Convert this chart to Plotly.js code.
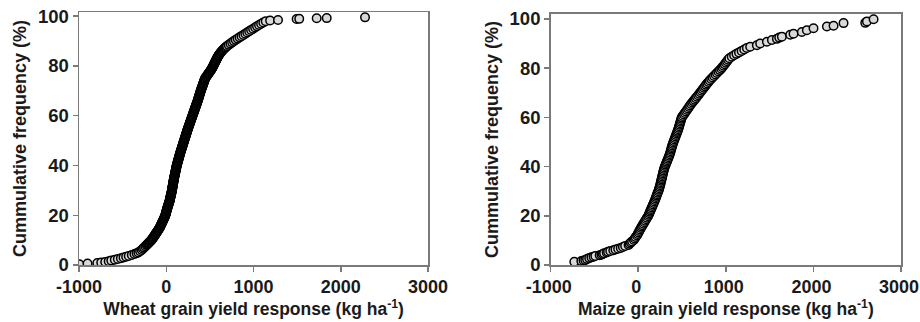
<!DOCTYPE html>
<html>
<head>
<meta charset="utf-8">
<script src="https://cdn.plot.ly/plotly-3.0.1.min.js"></script>
<style>html,body{margin:0;padding:0;background:#fff;}#chart{width:920px;height:322px;}</style>
</head>
<body>
<div id="chart"></div>
<script>
// Wheat: yield response (kg/ha) and cumulative frequency (%)
const wheatX = [-996,-902,-790,-745,-700,-660,-630,-590,-555,-520,-490,-460,-430,-395,-365,-340,
-320,-300,-282,-268,-255,-240,
-226,-219,-212,-205,-198,-191,-184,-177,-170,-165,-160,-155,-150,-145,-140,-135,-130,-126,-121,-117,
-112,-107,-102,-98,-93,-89,-84,-80,-75,-71,-68,-65,-62,-58,-55,-51,-48,-45,-42,-38,
-35,-32,-29,-25,-22,-19,-16,-13,-10,-8,-6,-4,-2,0,1,3,5,7,9,11,
14,16,18,20,22,25,27,29,31,34,36,38,40,42,43,45,46,48,49,51,
52,54,56,58,59,61,62,64,65,66,67,69,70,71,72,74,75,76,77,79,
80,81,82,84,85,86,87,89,90,92,93,95,96,98,99,101,102,104,105,107,
108,110,111,113,114,116,117,119,120,122,124,126,128,130,132,134,136,138,140,142,
144,146,148,150,152,154,156,158,160,162,164,167,169,171,173,176,178,180,182,185,
187,189,191,194,196,198,200,203,205,207,209,212,214,216,218,221,223,225,227,230,
232,234,236,239,241,243,245,248,250,253,255,258,260,263,265,268,270,273,275,278,
280,283,285,288,290,293,295,298,300,303,305,308,310,313,315,318,320,323,325,328,
330,333,335,338,340,343,345,348,350,353,355,358,360,362,364,367,369,371,373,376,
378,380,382,384,386,389,391,393,395,398,400,403,405,408,410,413,415,418,420,423,
425,428,430,433,435,438,440,443,445,450,455,460,465,470,475,480,485,490,495,500,
505,510,515,519,523,527,531,535,538,542,545,549,552,556,559,563,566,570,573,577,
580,584,588,592,596,600,605,610,615,620,626,632,638,644,651,658,665,672,680,688,
697,715,735,755,775,796,818,840,862,884,906,928,950,972,
995,1018,1040,1063,1087,1112,1140,
1190,1281,1494,1524,1724,1839,2278];
const wheatY = [0.3,0.6,0.8,1.0,1.2,1.5,1.8,2.1,2.4,2.7,3.0,3.3,3.6,4.0,4.4,4.7,
5,5.5,6,6.5,7,7.5,
8,8.25,8.5,8.75,9,9.25,9.5,9.75,10,10.25,10.5,10.75,11,11.25,11.5,11.75,12,12.25,12.5,12.75,
13,13.25,13.5,13.75,14,14.25,14.5,14.75,15,15.25,15.5,15.75,16,16.25,16.5,16.75,17,17.25,17.5,17.75,
18,18.25,18.5,18.75,19,19.25,19.5,19.75,20,20.25,20.5,20.75,21,21.25,21.5,21.75,22,22.25,22.5,22.75,
23,23.25,23.5,23.75,24,24.25,24.5,24.75,25,25.25,25.5,25.75,26,26.25,26.5,26.75,27,27.25,27.5,27.75,
28,28.25,28.5,28.75,29,29.25,29.5,29.75,30,30.25,30.5,30.75,31,31.25,31.5,31.75,32,32.25,32.5,32.75,
33,33.25,33.5,33.75,34,34.25,34.5,34.75,35,35.25,35.5,35.75,36,36.25,36.5,36.75,37,37.25,37.5,37.75,
38,38.25,38.5,38.75,39,39.25,39.5,39.75,40,40.25,40.5,40.75,41,41.25,41.5,41.75,42,42.25,42.5,42.75,
43,43.25,43.5,43.75,44,44.25,44.5,44.75,45,45.25,45.5,45.75,46,46.25,46.5,46.75,47,47.25,47.5,47.75,
48,48.25,48.5,48.75,49,49.25,49.5,49.75,50,50.25,50.5,50.75,51,51.25,51.5,51.75,52,52.25,52.5,52.75,
53,53.25,53.5,53.75,54,54.25,54.5,54.75,55,55.25,55.5,55.75,56,56.25,56.5,56.75,57,57.25,57.5,57.75,
58,58.25,58.5,58.75,59,59.25,59.5,59.75,60,60.25,60.5,60.75,61,61.25,61.5,61.75,62,62.25,62.5,62.75,
63,63.25,63.5,63.75,64,64.25,64.5,64.75,65,65.25,65.5,65.75,66,66.25,66.5,66.75,67,67.25,67.5,67.75,
68,68.25,68.5,68.75,69,69.25,69.5,69.75,70,70.25,70.5,70.75,71,71.25,71.5,71.75,72,72.25,72.5,72.75,
73,73.25,73.5,73.75,74,74.25,74.5,74.75,75,75.25,75.5,75.75,76,76.25,76.5,76.75,77,77.25,77.5,77.75,
78,78.25,78.5,78.75,79,79.25,79.5,79.75,80,80.25,80.5,80.75,81,81.25,81.5,81.75,82,82.25,82.5,82.75,
83,83.25,83.5,83.75,84,84.25,84.5,84.75,85,85.25,85.5,85.75,86,86.25,86.5,86.75,87,87.25,87.5,87.75,
88,88.5,89,89.5,90,90.5,91,91.5,92,92.5,93,93.5,94,94.5,
95,95.5,96,96.5,97,97.5,98,
98.3,98.5,98.9,98.95,99.2,99.25,99.55];

// Maize: yield response (kg/ha) and cumulative frequency (%)
const maizeX = [-730,-650,-625,-605,-585,-560,-535,-510,-490,-440,-420,-405,-390,-360,-345,-320,
-285,-260,-230,-200,-175,-150,-110,-100,-85,-70,-50,-40,-30,-15,-6,3,12,21,30,40,
50,60,70,80,90,100,112,120,127,134,141,148,155,162,169,177,184,191,198,204,
210,216,222,230,235,240,245,250,254,258,262,266,270,274,278,282,286,290,295,300,
307,313,320,327,333,340,347,353,360,365,370,374,379,384,389,394,400,406,413,419,
426,432,439,445,451,457,462,467,472,477,482,487,492,497,509,521,532,544,556,568,
580,591,604,617,630,644,657,670,684,697,710,723,736,749,762,775,788,802,815,832,
848,865,882,898,915,932,948,961,974,987,1000,1013,1026,1040,1067,1094,1121,1150,1180,1210,
1240,1278,1354,1392,1469,1526,1583,1610,1640,1735,1773,1868,1925,2001,2154,2230,2344,2592,2611,2687];
const maizeY = [1.3,1.6,1.8,2.0,2.4,2.8,3.1,3.4,3.7,4.0,4.2,4.5,4.8,5.1,5.4,5.7,
6.0,6.3,6.6,6.9,7.3,7.7,8.1,8.6,9.1,9.6,10.2,10.8,11.4,12.0,12.6,13.2,13.8,14.4,15.0,15.6,
16.2,16.8,17.4,18.0,18.6,19.2,19.8,20.4,21.0,21.6,22.2,22.8,23.4,24.0,24.6,25.2,25.8,26.4,27.0,27.6,
28.2,28.8,29.4,30.0,30.6,31.2,31.8,32.4,33.0,33.6,34.2,34.8,35.4,36.0,36.6,37.2,37.8,38.4,39.0,39.6,
40.2,40.8,41.4,42.0,42.6,43.2,43.8,44.4,45.0,45.6,46.2,46.8,47.4,48.0,48.6,49.2,49.8,50.4,51.0,51.6,
52.2,52.8,53.4,54.0,54.6,55.2,55.8,56.4,57.0,57.6,58.2,58.8,59.4,60.0,60.6,61.2,61.8,62.4,63.0,63.6,
64.2,64.8,65.4,66.0,66.6,67.2,67.8,68.4,69.0,69.6,70.2,70.8,71.4,72.0,72.6,73.2,73.8,74.4,75.0,75.6,
76.2,76.8,77.4,78.0,78.6,79.2,79.8,80.4,81.0,81.6,82.2,82.8,83.4,84.0,84.6,85.2,85.8,86.4,87.0,87.6,
88.2,88.7,89.3,90.0,90.7,91.4,91.9,92.4,92.8,93.6,94.0,94.7,95.4,96.2,96.9,97.2,98.3,98.4,99.0,99.9];

const xTicks = [-1000, 0, 1000, 2000, 3000];
const yTicks = [0, 20, 40, 60, 80, 100];
const yTitle = 'Cummulative frequency (%)';
const wheatTitle = 'Wheat grain yield response (kg ha<sup>-1</sup>)';
const maizeTitle = 'Maize grain yield response (kg ha<sup>-1</sup>)';

const markerStyle = {symbol: 'circle', size: 8.5, color: '#d9d9d9', line: {color: '#000000', width: 1.5}};
const FONT = 'Liberation Sans, Arial, sans-serif';
const TXT = '#1a1a1a';

const traces = [
  {x: wheatX, y: wheatY, xaxis: 'x', yaxis: 'y', type: 'scatter', mode: 'markers', marker: markerStyle, hoverinfo: 'skip'},
  {x: maizeX, y: maizeY, xaxis: 'x2', yaxis: 'y2', type: 'scatter', mode: 'markers', marker: markerStyle, hoverinfo: 'skip'}
];

function xa(domain, title) {
  return {domain: domain, range: [-1000, 3000], tickvals: xTicks, ticktext: xTicks.map(String),
    showline: true, mirror: true, linecolor: '#7a7a7a', linewidth: 1.5, ticks: 'outside', ticklen: 5,
    tickcolor: '#7a7a7a', tickwidth: 1.5, showgrid: false, zeroline: false, ticklabeloverflow: 'allow',
    tickfont: {family: FONT, size: 18, color: TXT, weight: 700},
    title: {text: title, font: {family: FONT, size: 17.5, color: TXT, weight: 700}, standoff: 5}};
}
function ya(domain, anchor, top) {
  return {domain: domain, anchor: anchor, range: [0, top], tickvals: yTicks, ticktext: yTicks.map(String),
    showline: true, mirror: true, linecolor: '#7a7a7a', linewidth: 1.5, ticks: 'outside', ticklen: 5,
    tickcolor: '#7a7a7a', tickwidth: 1.5, showgrid: false, zeroline: false,
    tickfont: {family: FONT, size: 18.5, color: TXT, weight: 700},
    title: {text: yTitle, font: {family: FONT, size: 18, color: TXT, weight: 700}, standoff: 6}};
}

const layout = {
  width: 920, height: 322,
  margin: {l: 79, r: 19, t: 12, b: 57},
  paper_bgcolor: '#ffffff', plot_bgcolor: '#ffffff',
  showlegend: false,
  xaxis: Object.assign(xa([0, 0.4246], wheatTitle), {anchor: 'y'}),
  yaxis: ya([0, 1], 'x', 101.7),
  xaxis2: Object.assign(xa([0.5738, 1], maizeTitle), {anchor: 'y2', ticklabelshift: -2}),
  yaxis2: ya([0, 0.9921], 'x2', 102)
};

Plotly.newPlot('chart', traces, layout, {displayModeBar: false, staticPlot: true});
</script>
</body>
</html>
